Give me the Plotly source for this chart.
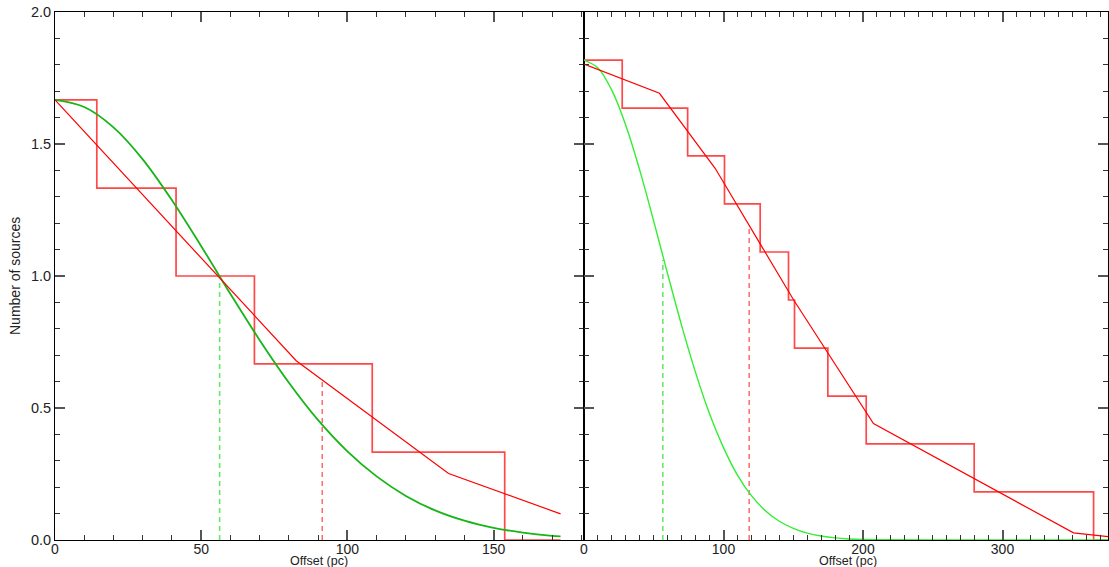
import plotly.graph_objects as go

# ---------------- data ----------------
# Left panel
left_hist_x = [0, 14.3, 41.4, 68.2, 108.5, 153.8, 172.9]
left_hist_y = [1.667, 1.333, 1.000, 0.667, 0.333, 0.0, 0.0]

left_fit_x = [0, 82.5, 134.6, 172.9]
left_fit_y = [1.667, 0.679, 0.252, 0.099]

left_gauss_x = [0, 10, 20, 30, 40, 50, 60, 70, 80, 90, 100, 110, 120, 130, 140, 150, 160, 170, 172.9]
left_gauss_y = [1.667, 1.640, 1.563, 1.442, 1.287, 1.113, 0.932, 0.757, 0.596, 0.454, 0.336, 0.241, 0.167, 0.112, 0.073, 0.046, 0.028, 0.016, 0.014]

left_green_dash_x = [56.3, 56.3]
left_green_dash_y = [0.0, 0.99]
left_red_dash_x = [91.4, 91.4]
left_red_dash_y = [0.0, 0.607]

# Right panel
right_hist_x = [0, 27.4, 74.3, 100.7, 126.3, 146.6, 150.9, 174.8, 202.3, 279.7, 365.3, 376.5]
right_hist_y = [1.818, 1.636, 1.455, 1.273, 1.091, 0.909, 0.727, 0.545, 0.364, 0.182, 0.0, 0.0]

right_fit_x = [0, 54.1, 94.0, 150.2, 207.5, 350.9, 376.5]
right_fit_y = [1.803, 1.692, 1.408, 0.910, 0.441, 0.027, 0.012]

right_gauss_x = [0, 10, 20, 30, 40, 50, 60, 70, 80, 90, 100, 110, 120, 130, 140, 150, 160, 170, 180, 190, 200, 220, 250, 300, 376.5]
right_gauss_y = [1.818, 1.788, 1.703, 1.570, 1.400, 1.207, 1.007, 0.812, 0.634, 0.478, 0.350, 0.246, 0.168, 0.111, 0.071, 0.044, 0.026, 0.015, 0.008, 0.004, 0.002, 0.001, 0.0, 0.0, 0.0]

right_green_dash_x = [56.5, 56.5]
right_green_dash_y = [0.0, 1.061]
right_red_dash_x = [118.4, 118.4]
right_red_dash_y = [0.0, 1.18]

x_left_ticks = [0, 50, 100, 150]
x_right_ticks = [0, 100, 200, 300]
y_ticks = [0.0, 0.5, 1.0, 1.5, 2.0]

# ---------------- styles ----------------
RED = "#ff0000"
RED_HIST = "#ff4848"
RED_DASH = "#ff6a6a"
GREEN_L = "#18b418"
GREEN_R = "#33ee33"
GREEN_DASH = "#5fe65f"
FONT = "Liberation Sans, Arial, sans-serif"

fig = go.Figure()

def add(x, y, xa, ya, color, width, dash=None, shape="linear"):
    fig.add_trace(go.Scatter(
        x=x, y=y, mode="lines", xaxis=xa, yaxis=ya,
        line=dict(color=color, width=width, dash=dash, shape=shape),
        showlegend=False, hoverinfo="skip", cliponaxis=True))

# left
add(left_green_dash_x, left_green_dash_y, "x", "y", GREEN_DASH, 1.5, "5px,4px")
add(left_red_dash_x, left_red_dash_y, "x", "y", RED_DASH, 1.5, "5px,4px")
add(left_hist_x, left_hist_y, "x", "y", RED_HIST, 1.7, shape="hv")
add(left_gauss_x, left_gauss_y, "x", "y", GREEN_L, 1.8, shape="spline")
add(left_fit_x, left_fit_y, "x", "y", RED, 1.2)

# right
add(right_green_dash_x, right_green_dash_y, "x2", "y2", GREEN_DASH, 1.5, "5px,4px")
add(right_red_dash_x, right_red_dash_y, "x2", "y2", RED_DASH, 1.5, "5px,4px")
add(right_hist_x, right_hist_y, "x2", "y2", RED_HIST, 1.7, shape="hv")
add(right_gauss_x, right_gauss_y, "x2", "y2", GREEN_R, 1.4, shape="spline")
add(right_fit_x, right_fit_y, "x2", "y2", RED, 1.2)

W, H = 1109, 567
ML, MR, MT, MB = 55, 1, 12, 27
plot_w = W - ML - MR
plot_h = H - MT - MB
split = 529 / plot_w

ytickfont = dict(family=FONT, size=14.5, color="#222222")
xtickfont = dict(family=FONT, size=14, color="#222222")
minor_common = dict(ticks="inside", ticklen=5, tickcolor="#333333", tickwidth=1)

xcommon = dict(showgrid=False, zeroline=False, showline=True, linecolor="#000000",
               linewidth=1, mirror="ticks", ticks="inside", ticklen=10,
               tickcolor="#555555", tickwidth=1.5, tickfont=xtickfont,
               automargin=False, ticklabelstandoff=-4)
ycommon = dict(showgrid=False, zeroline=False, showline=True, linecolor="#000000",
               linewidth=1, mirror="ticks", ticks="inside", ticklen=10,
               tickcolor="#555555", tickwidth=1.5, tickfont=ytickfont,
               range=[0, 2.0], automargin=False, ticklabeloverflow="allow")

fig.update_layout(
    width=W, height=H,
    margin=dict(l=ML, r=MR, t=MT, b=MB, autoexpand=False),
    paper_bgcolor="white", plot_bgcolor="white",
    font=dict(family=FONT, color="#222222"),
    xaxis=dict(domain=[0, split], range=[0, 529 / 2.924], anchor="y",
               tickvals=x_left_ticks, ticktext=[str(v) for v in x_left_ticks],
               minor=dict(dtick=10, **minor_common), **xcommon),
    yaxis=dict(domain=[0, 1], anchor="x", tickvals=y_ticks,
               ticktext=["%.1f" % v for v in y_ticks],
               minor=dict(dtick=0.1, **minor_common), **ycommon),
    xaxis2=dict(domain=[split, 1], range=[0, 524 / 1.395], anchor="y2",
                tickvals=x_right_ticks, ticktext=[str(v) for v in x_right_ticks],
                minor=dict(dtick=10, **minor_common), **xcommon),
    yaxis2=dict(domain=[0, 1], anchor="x2", tickvals=y_ticks, showticklabels=False,
                minor=dict(dtick=0.1, **minor_common), **ycommon),
)

ann_font = dict(family=FONT, size=12.5, color="#222222")
for cx in (319, 848):
    fig.add_annotation(text="Offset (pc)", xref="paper", yref="paper",
                       x=(cx - ML) / plot_w, y=-21 / plot_h,
                       showarrow=False, xanchor="center", yanchor="middle",
                       font=ann_font, borderpad=0)
fig.add_annotation(text="Number of sources", xref="paper", yref="paper",
                   x=(15 - ML) / plot_w, y=0.5, textangle=-90,
                   showarrow=False, xanchor="center", yanchor="middle",
                   font=dict(family=FONT, size=14, color="#222222"))

# remove the browser's default 8px body margin so the figure fills the window
fig.write_html("out.html", config={"displayModeBar": False},
               post_script="document.body.style.margin='0';")
